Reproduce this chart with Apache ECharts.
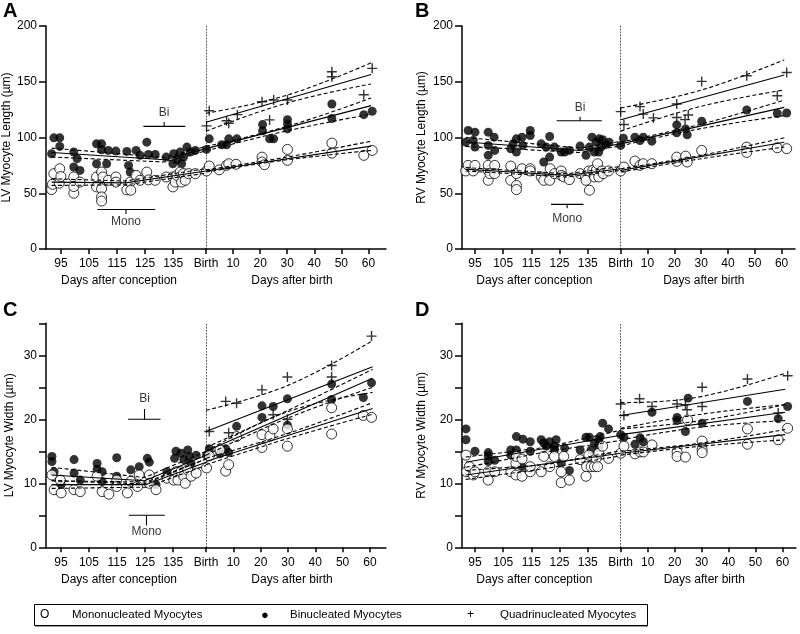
<!DOCTYPE html>
<html><head><meta charset="utf-8">
<script src="https://cdn.jsdelivr.net/npm/echarts@6/dist/echarts.min.js"></script>
<style>html,body{margin:0;padding:0;background:#fff}#c{width:800px;height:634px}</style>
</head><body><div id="c"></div>
<script>
// ---------------- tick labels ----------------
const PRE_TICKS = [95, 105, 115, 125, 135];
const POST_TICKS = [0, 10, 20, 30, 40, 50, 60];
const LEN_TICKS = [0, 50, 100, 150, 200];
const WID_TICKS = [0, 5, 10, 15, 20, 25, 30, 35];
const WID_LABELS = [0, 10, 20, 30];

// ---------------- Panel A : LV length ----------------
const A_monoPre = [[91.7,53.3],[92,58],[92.5,67.6],[94.4,59],[94.6,72],[95,65],[99.6,64.6],[99.6,50],[99.6,56],[101.8,60],[107.7,64.6],[107.7,55.7],[109.5,69],[109.5,54],[109.5,46.7],[109.5,43],[110,64.6],[111.9,61.6],[114.6,64.6],[114.6,60],[118.5,53],[119.7,60],[119.9,52.7],[121.8,66],[123.2,61.6],[125.6,69],[126.2,62],[128.6,61.6],[132.5,64.6],[134.9,55.7],[134.9,64.6],[135.7,60],[136.3,66],[137.5,69],[138,60],[138.7,67.6],[139.3,61.6],[140.5,67.6],[142.9,67.6]];
const A_biPre = [[91.7,85.4],[92.5,99.7],[94.6,99.7],[94.6,92],[99.6,87],[99.6,73.5],[100.8,81],[101.8,70.5],[107.7,94.3],[107.7,76.5],[109.5,94.3],[109.5,89],[111.3,76.5],[111.9,88.4],[114.6,87.8],[118.5,87.5],[119.1,75],[119.7,69],[121.8,88.4],[123.2,84],[125.6,95.8],[126.2,84.8],[128.6,84.8],[132.5,82.4],[134.9,76.5],[135.2,85.4],[136.3,80],[137.5,87],[138,76.5],[138.7,82.4],[139.9,91.4],[141.1,87],[142.9,88.4]];
const A_monoPost = [[0.2,70],[1.2,74.4],[4.9,71],[7.6,75],[8.4,76.5],[11.1,76],[20.7,82.4],[20.7,78],[21.6,75.6],[30.1,89.3],[30.1,79.5],[46.5,95],[46.5,86],[58.3,84],[61.4,88.4]];
const A_biPost = [[0.2,89.3],[1.2,98.8],[5.8,93.5],[7.6,93.5],[8.4,98.8],[11.4,98.8],[20.9,111.6],[20.9,106],[23.5,98.8],[25,98.8],[30.1,107.7],[30.1,112],[30.1,116],[46.5,130],[46.5,117],[58.3,120.5],[61.4,123.5]];
const A_quadPost = [[0.2,110.4],[1.2,124],[7.6,115],[8.4,112.8],[11.6,120.5],[20.7,132],[23.5,115.8],[25,133.6],[30.1,133.6],[46.5,159],[46.5,154.5],[58.3,138.4],[61.4,162]];
// fits: [solid, upper, lower]
const A_monoPreFit = [[[91.7,60],[118,59.3],[146.7,70]],[[91.7,63],[118,61],[146.7,72]],[[91.7,57],[118,57.5],[146.7,68]]];
const A_biPreFit = [[[91.7,86.5],[132,80],[146.7,90]],[[91.7,90.5],[132,82],[146.7,92]],[[91.7,82.5],[132,78],[146.7,88]]];
const A_monoPostFit = [[[0,70],[61,92.3]],[[0,71],[30,82.5],[61,96.7]],[[0,69],[30,80],[61,88.4]]];
const A_biPostFit = [[[0,90],[61,128.6]],[[0,92],[30,110],[61,135.4]],[[0,88],[30,106],[61,121]]];
const A_quadPostFit = [[[0,113.7],[61,156.5]],[[0,121.7],[30,138],[61,167]],[[0,105.6],[30,131],[61,148]]];
// brackets: [from, to, centre, y, tickEnd, label, labelY]
const A_brackets = [[124.4,139.3,131.8,110,114,'Bi',122.5],[108,128.6,118.2,35.4,31.5,'Mono',24.4]];

// ---------------- Panel B : RV length ----------------
const B_monoPre = [[91.7,70],[92.6,75],[94.4,70],[95,75],[99.7,70.5],[99.7,75],[99.7,61.6],[100.3,67.6],[102,75],[102,67.6],[107.7,74.4],[107.7,61.6],[109.7,67.6],[109.7,57],[109.7,53.3],[111.7,72],[114.6,72],[114.6,70],[118.5,64.6],[119.4,61.6],[121.5,61.6],[121.7,72],[123.2,67.6],[125.6,70],[125.6,66],[126.5,64.6],[128.5,62.2],[132.3,67.6],[134.2,64.6],[134.4,61.6],[135.6,52.7],[135.4,70],[136.8,70.5],[137.4,64.6],[138,70.5],[138.5,76.5],[138.9,64.6],[140,70],[140.5,67.6],[142.4,70]];
const B_biPre = [[91.7,95.8],[92.6,106.3],[94.4,97.3],[95,104.8],[95,91.4],[99.7,104.8],[99.7,92.9],[99.7,84],[101.8,100.3],[102,88.4],[107.7,89.9],[108.5,94.3],[109.7,87],[109.7,98.8],[111.7,100.3],[112,92.9],[114.6,106.3],[114.6,101.8],[118.5,94.3],[119.4,78],[120.3,91.4],[121.5,82.4],[121.5,100.9],[123.2,91.4],[125.6,87],[126.8,87],[128.5,88.4],[132.3,92.3],[134.4,84],[135.6,91.4],[136.5,100.3],[137.4,87],[138,95.8],[138.9,87],[139.1,98.8],[139.7,91.4],[140.3,98],[141.5,93.8],[142.6,95.8]];
const B_monoPost = [[0,70],[1.2,73.5],[5.3,78.9],[7.2,75],[8.4,76.5],[11.6,76.5],[20.9,78.6],[20.9,82.4],[24.2,83.3],[24.8,78],[30.2,88.4],[47,91.4],[47,86.6],[58.4,90.8],[61.9,90]];
const B_biPost = [[0,92.9],[1,99.4],[5.3,100.3],[7.2,97.3],[8.4,100.3],[11.6,96.7],[20.9,111.3],[20.9,104.2],[24.2,107.7],[24.8,102.4],[30.2,114.6],[47,124.7],[58.4,121.5],[61.9,122]];
const B_quadPost = [[0,123.2],[1.2,111.6],[7.2,127.7],[8.4,121],[12.2,117.6],[20.9,130],[20.9,118],[24,116],[25.2,120.2],[30.2,150.3],[47,155.4],[58.4,137.5],[61.9,158.3]];
const B_monoPreFit = [[[91.7,71.5],[127.7,66],[146.7,72]],[[91.7,73],[127.7,67.5],[146.7,74]],[[91.7,70],[127.7,64.5],[146.7,70.5]]];
const B_biPreFit = [[[91.7,96],[132.3,88.4],[146.7,94.3]],[[91.7,100],[132.3,90.5],[146.7,96.5]],[[91.7,92],[132.3,86.5],[146.7,92.5]]];
const B_monoPostFit = [[[0,70.5],[61,95.8]],[[0,72],[30,84],[61,99.7]],[[0,69],[30,81],[61,91.4]]];
const B_biPostFit = [[[0,94.3],[61,127]],[[0,96],[30,112],[61,133.6]],[[0,92.5],[30,108],[61,119.6]]];
const B_quadPostFit = [[[0,116],[61,156]],[[0,126.5],[30,142.5],[61,169.6]],[[0,105.7],[30,128],[61,142.6]]];
const B_brackets = [[124,140,132.3,115,118.5,'Bi',127],[122,133.5,127.7,40,36.5,'Mono',27.4]];

// ---------------- Panel C : LV width ----------------
const C_monoPre = [[91.8,11.3],[92.6,9],[94.8,10.5],[95.1,8.5],[99.7,9],[101.9,8.7],[107.9,11.1],[109.7,8.7],[112.1,8.3],[114.9,10.5],[114.9,9.5],[118.7,8.5],[119.9,10.3],[122.3,9.5],[122.9,11.3],[126.5,11.3],[126.5,10],[128.9,9],[132.8,10.8],[135.2,10.5],[136,11.8],[136.7,10.5],[137.8,11.8],[138.8,11.1],[139.3,10],[140.2,12.1],[141.4,11.1],[143.2,11.6]];
const C_biPre = [[91.8,14.2],[91.8,13.4],[92.6,11.8],[95.1,9.8],[99.7,13.7],[99.7,11.6],[101.9,10.5],[107.9,13.1],[107.9,12.2],[109.7,11.8],[109.7,10.3],[114.9,14],[114.9,11.1],[119.9,12.1],[122.9,12.6],[125.8,13.9],[126.5,13.3],[128.9,9.8],[132.8,11.8],[135.5,13.9],[136,15],[137.8,14.7],[138.8,13.7],[140.2,15.2],[140.8,14.2],[141.4,13.1],[143.2,14.4]];
const C_monoPost = [[0.2,12.4],[1.2,14.3],[5.1,15.2],[7.2,11.9],[8.3,12.9],[11.2,17.3],[20.5,17.6],[20.5,15.6],[23.4,17.4],[24.6,18.5],[29.8,18.5],[29.8,15.8],[46,21.8],[46,17.7],[57.6,20.6],[60.6,20.3]];
const C_biPost = [[0.2,14.4],[1.2,15.4],[5.1,14.6],[7.2,15.4],[8.3,14.8],[11.2,18.9],[20.5,22.1],[20.5,20.3],[24.6,22],[29.8,23.2],[29.8,19.1],[46,25.5],[46,23.1],[57.6,23.4],[60.6,25.7]];
const C_quadPost = [[-0.3,16.5],[1.2,18.1],[7.2,22.8],[8.3,17.9],[11.2,22.5],[20.5,24.6],[24.6,20.7],[29.8,26.6],[29.8,20],[46,28.4],[46,26.6],[60.6,33]];
const C_monoPreFit = [[[91.7,9.8],[125.4,9.8],[146.7,13.3]],[[91.7,10.4],[125.4,10.2],[146.7,13.8]],[[91.7,9.2],[125.4,9.4],[146.7,12.8]]];
const C_biPreFit = [[[91.7,11.3],[124.8,10.4],[146.7,14.4]],[[91.7,12.5],[124.8,10.9],[146.7,15]],[[91.7,10.4],[124.8,9.9],[146.7,13.8]]];
const C_monoPostFit = [[[0,13.4],[61,21.7]],[[0,13.9],[30,17.8],[61,22.6]],[[0,12.9],[30,17],[61,20.8]]];
const C_biPostFit = [[[0,15],[61,26.4]],[[0,15.6],[30,21.4],[61,27.8]],[[0,14.4],[30,20.2],[61,25]]];
const C_quadPostFit = [[[0,18.1],[61,28.2]],[[0,21.4],[30,25.3],[61,32.3]],[[0,15],[30,21.2],[61,24.2]]];
const C_brackets = [[118.9,130.5,124.8,20,21.6,'Bi',23.2],[119.2,132,125.5,5,3.4,'Mono',2.4]];

// ---------------- Panel D : RV width ----------------
const D_monoPre = [[91.8,14.4],[92,11.8],[93,12.6],[94.4,11.3],[95,11.8],[99.7,11.8],[99.7,10.5],[102,11.8],[107.7,11.8],[109.5,13.1],[109.5,11.3],[109.7,14.2],[111.7,13.8],[111.7,11.1],[114.6,11.8],[114.6,12.6],[118.5,11.8],[119.4,14.2],[121.5,12.6],[123.2,14.2],[125.6,11.8],[125.6,10.1],[126.5,14.2],[128.5,10.5],[132.3,13.7],[134.4,11.1],[134.6,12.6],[135.4,14.4],[136.2,12.6],[137.4,12.6],[138,13.9],[138.5,12.6],[138.9,14.7],[140.3,15.8],[142.4,13.9]];
const D_biPre = [[91.8,18.5],[91.8,16.8],[95,15],[99.7,14.8],[99.7,14.3],[99.7,13.4],[102,13.6],[107.7,15.2],[107.7,14.4],[109.7,17.3],[109.7,15.2],[111.7,12.6],[112,16.9],[114.6,15],[114.6,16.5],[118.5,16.8],[119.4,16.3],[120.3,15.8],[121.5,16.5],[123.2,15.8],[123.2,15.2],[123.8,16.8],[126.8,15.5],[125.6,13.2],[128.5,12],[132.3,15.2],[134.4,17.2],[135.6,17.2],[136.2,15.2],[137.4,16.3],[138.9,16.8],[138.9,15.6],[139.4,17.3],[140.3,19.4],[142.4,18.5]];
const D_monoPost = [[0,14.7],[1.2,15.8],[5.3,14.6],[7.2,14.9],[8.4,14.9],[11.6,16],[20.9,14.9],[20.9,14.2],[24,14.1],[24.8,19.9],[30.2,15.3],[30.2,14.8],[30.2,16.6],[47,18.5],[47,16.1],[58.4,16.8],[61.9,18.6]];
const D_biPost = [[0,17.6],[1.2,17.2],[5.3,16.1],[7.2,17.1],[8.4,16.5],[11.6,21.1],[20.9,20.3],[20.9,19.8],[24,18.1],[25,23.3],[30.2,19.4],[30.2,15.8],[47,22.8],[58.4,20.1],[61.9,22]];
const D_quadPost = [[0,22.4],[1.2,20.6],[7,23.2],[11.6,22],[20.9,22.4],[24,22.3],[24.6,21.5],[30.2,25],[30.2,22],[47,26.3],[58.4,21],[61.9,26.8]];
const D_monoPreFit = [[[91.7,11.3],[146.7,14.7]],[[91.7,12],[120,12.9],[146.7,15.1]],[[91.7,10.6],[120,12.3],[146.7,14.3]]];
const D_biPreFit = [[[91.7,13.3],[146.7,17.5]],[[91.7,14.1],[120,15.6],[146.7,18.3]],[[91.7,12.5],[120,14.9],[146.7,16.7]]];
const D_monoPostFit = [[[0,14.7],[61,17.6]],[[0,15],[30,16.3],[61,18.4]],[[0,14.4],[30,15.8],[61,16.8]]];
const D_biPostFit = [[[0,17.6],[61,21.1]],[[0,18.5],[30,19.8],[61,22.3]],[[0,16.8],[30,18.8],[61,19.8]]];
const D_quadPostFit = [[[0,20.6],[61,24.7]],[[0,22.6],[25,23.2],[61,27.2]],[[0,18.6],[30,20.8],[61,22.3]]];
const D_brackets = [];

// ---------------- build ----------------
const FONT = '"Liberation Sans", Arial, sans-serif';
const layouts = [
  {L:46, Bx:206, R:386, T:26, Bt:249, preMin:89.7, preMax:146.7, postMax:66.5, yMax:200, yGap:30, letter:'A', lx:3, ly:1},
  {L:462, Bx:620.7, R:795, T:26, Bt:249, preMin:90.4, preMax:146.7, postMax:65, yMax:200, yGap:34, letter:'B', lx:415, ly:1},
  {L:46, Bx:206, R:386, T:323.3, Bt:547.3, preMin:89.7, preMax:146.7, postMax:65.9, yMax:35, yGap:30, letter:'C', lx:3, ly:300},
  {L:462, Bx:620.7, R:796, T:323.3, Bt:547.3, preMin:90.4, preMax:146.7, postMax:65, yMax:35, yGap:34, letter:'D', lx:415, ly:300}
];
const yNames = ['LV Myocyte Length (µm)', 'RV Myocyte Length (µm)', 'LV Myocyte Width (µm)', 'RV Myocyte Width (µm)'];
const panelData = [
  {monoPre:A_monoPre, biPre:A_biPre, monoPost:A_monoPost, biPost:A_biPost, quadPost:A_quadPost, fitsPre:[A_monoPreFit,A_biPreFit], fitsPost:[A_monoPostFit,A_biPostFit,A_quadPostFit], br:A_brackets},
  {monoPre:B_monoPre, biPre:B_biPre, monoPost:B_monoPost, biPost:B_biPost, quadPost:B_quadPost, fitsPre:[B_monoPreFit,B_biPreFit], fitsPost:[B_monoPostFit,B_biPostFit,B_quadPostFit], br:B_brackets},
  {monoPre:C_monoPre, biPre:C_biPre, monoPost:C_monoPost, biPost:C_biPost, quadPost:C_quadPost, fitsPre:[C_monoPreFit,C_biPreFit], fitsPost:[C_monoPostFit,C_biPostFit,C_quadPostFit], br:C_brackets},
  {monoPre:D_monoPre, biPre:D_biPre, monoPost:D_monoPost, biPost:D_biPost, quadPost:D_quadPost, fitsPre:[D_monoPreFit,D_biPreFit], fitsPost:[D_monoPostFit,D_biPostFit,D_quadPostFit], br:D_brackets}
];

const grids = [], xAxes = [], yAxes = [], series = [], graphics = [];
const AX = {color:'#000', width:1.5};
const LBL = {color:'#000', fontSize:12, fontFamily:FONT};
const SYM_OPEN = {symbol:'circle', symbolSize:10, itemStyle:{color:'#fff', borderColor:'#000', borderWidth:1}};
const SYM_FILL = {symbol:'circle', symbolSize:9, itemStyle:{color:'#000'}};
const SYM_PLUS = {symbol:'path://M4.3,0H5.7V4.3H10V5.7H5.7V10H4.3V5.7H0V4.3H4.3Z', symbolSize:10, itemStyle:{color:'#000'}};

function scatter(ax, data, sym, z) {
  series.push(Object.assign({type:'scatter', xAxisIndex:ax, yAxisIndex:ax, data:data, silent:true, z:z, animation:false}, sym));
}
function line(ax, data, dashed, z) {
  series.push({type:'line', xAxisIndex:ax, yAxisIndex:ax, data:data, symbol:'none', silent:true, animation:false, z:z || 5,
    smooth: dashed && data.length > 2 && ax % 2 === 1 ? 0.4 : false,
    lineStyle:{color:'#000', width:1.1, type: dashed ? [4,2.5] : 'solid'}});
}

layouts.forEach((c, p) => {
  const d = panelData[p];
  const gPre = 2*p, gPost = 2*p+1;
  const H = c.Bt - c.T;
  grids.push({left:c.L, top:c.T, width:c.Bx - c.L, height:H});
  grids.push({left:c.Bx, top:c.T, width:c.R - c.Bx, height:H});
  const isLen = c.yMax === 200;
  xAxes.push({type:'value', gridIndex:gPre, min:c.preMin, max:c.preMax, splitLine:{show:false},
    axisLine:{show:true, lineStyle:AX, onZero:false},
    axisTick:{show:true, customValues:PRE_TICKS, length:5, lineStyle:AX},
    axisLabel:Object.assign({customValues:PRE_TICKS, margin:9}, LBL),
    name:'Days after conception', nameLocation:'middle', nameGap:26,
    nameTextStyle:Object.assign({padding:[0, 14, 0, 0]}, LBL)});
  xAxes.push({type:'value', gridIndex:gPost, min:0, max:c.postMax, splitLine:{show:false},
    axisLine:{show:true, lineStyle:AX, onZero:false},
    axisTick:{show:true, customValues:POST_TICKS, length:5, lineStyle:AX},
    axisLabel:Object.assign({customValues:POST_TICKS, margin:9, formatter:v => v === 0 ? 'Birth' : String(v)}, LBL),
    name:'Days after birth', nameLocation:'middle', nameGap:26,
    nameTextStyle:Object.assign({padding:[0, 8, 0, 0]}, LBL)});
  yAxes.push({type:'value', gridIndex:gPre, min:0, max:c.yMax, splitLine:{show:false},
    axisLine:{show:true, lineStyle:AX, onZero:false},
    axisTick:{show:true, customValues:isLen ? LEN_TICKS : WID_TICKS, length:7, lineStyle:AX},
    axisLabel:Object.assign({customValues:isLen ? LEN_TICKS : WID_LABELS, margin:9}, LBL),
    name:yNames[p], nameLocation:'middle', nameGap:c.yGap, nameRotate:90,
    nameTextStyle:LBL});
  yAxes.push({type:'value', gridIndex:gPost, min:0, max:c.yMax, splitLine:{show:false},
    axisLine:{show:true, onZero:false, lineStyle:{color:'#555', width:1, type:[1,2]}},
    axisTick:{show:false}, axisLabel:{show:false}});

  scatter(gPre, d.biPre, SYM_FILL, 2);
  scatter(gPre, d.monoPre, SYM_OPEN, 3);
  scatter(gPost, d.biPost, SYM_FILL, 2);
  scatter(gPost, d.monoPost, SYM_OPEN, 3);
  scatter(gPost, d.quadPost, SYM_PLUS, 4);
  d.fitsPre.forEach(f => { line(gPre, f[0], false); line(gPre, f[1], true); line(gPre, f[2], true); });
  d.fitsPost.forEach(f => { line(gPost, f[0], false); line(gPost, f[1], true); line(gPost, f[2], true); });
  d.br.forEach(b => {
    line(gPre, [[b[0], b[3]], [b[1], b[3]]], false, 6);
    line(gPre, [[b[2], b[3]], [b[2], b[4]]], false, 6);
    series.push({type:'scatter', xAxisIndex:gPre, yAxisIndex:gPre, data:[[b[2], b[6]]], symbolSize:1, silent:true, animation:false,
      itemStyle:{color:'rgba(0,0,0,0)'},
      label:{show:true, position:'inside', formatter:b[5], color:'#000', fontSize:12, fontFamily:FONT}});
  });
  graphics.push({type:'text', left:c.lx, top:c.ly, style:{text:c.letter, fontSize:20, fontWeight:'bold', fontFamily:FONT, fill:'#000'}});
});

// legend box
const legendItems = [['O', 'Mononucleated Myocytes', 40, 72], ['●', 'Binucleated Myocytes', 261, 290], ['+', 'Quadrinucleated Myocytes', 467, 500]];
graphics.push({type:'rect', shape:{x:34.5, y:604.5, width:613, height:21}, style:{fill:'#fff', stroke:'#000', lineWidth:1}, z:1});
graphics.push({type:'line', shape:{x1:35, y1:626.5, x2:648, y2:626.5}, style:{stroke:'#999', lineWidth:1.2}, z:1});
legendItems.forEach(it => {
  graphics.push({type:'text', x:it[2], y:615, style:{text:it[0], fontSize:it[0]==='●'?13:12, fontFamily:FONT, fill:'#000', textVerticalAlign:'middle'}, z:2});
  graphics.push({type:'text', x:it[3], y:615, style:{text:it[1], fontSize:11.5, fontFamily:FONT, fill:'#000', textVerticalAlign:'middle'}, z:2});
});

const chart = echarts.init(document.getElementById('c'), null, {renderer:'canvas'});
chart.setOption({
  animation:false, backgroundColor:'#fff',
  grid:grids, xAxis:xAxes, yAxis:yAxes, series:series, graphic:graphics
});
</script></body></html>
